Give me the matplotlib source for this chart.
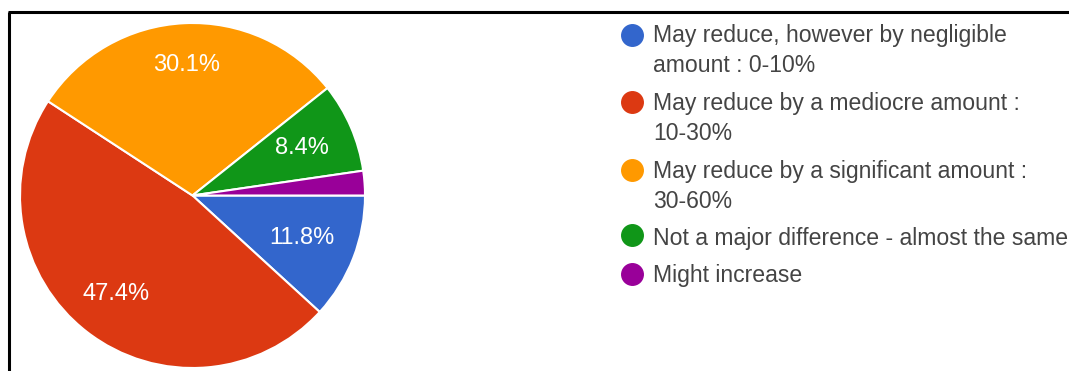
import numpy as np
import matplotlib
matplotlib.use("Agg")
import matplotlib.pyplot as plt

# ---- data ----
categories = [
    "May reduce, however by negligible\namount : 0-10%",
    "May reduce by a mediocre amount :\n10-30%",
    "May reduce by a significant amount :\n30-60%",
    "Not a major difference - almost the same",
    "Might increase",
]
values = [11.8, 47.4, 30.1, 8.4, 2.3]
colors = ["#3366cc", "#dc3912", "#ff9900", "#109618", "#990099"]
label_dist = [0.68, 0.72, 0.76, 0.69, 0.7]

W, H = 1069, 371
plt.rcParams['font.family'] = ['Liberation Sans', 'DejaVu Sans']
fig = plt.figure(figsize=(W / 100, H / 100), dpi=100)
fig.patch.set_facecolor("white")

# overlay axes in pixel coordinates for border and legend
ov = fig.add_axes([0, 0, 1, 1])
ov.set_xlim(0, W)
ov.set_ylim(H, 0)
ov.axis("off")
ov.plot([9, 9], [12, H], color="black", lw=2.2, solid_capstyle="butt")
ov.plot([8, W], [12, 12], color="black", lw=2.2, solid_capstyle="butt")

# pie axes
cx, cy, r = 192.5, 195.5, 172.5
ax = fig.add_axes([(cx - r) / W, (H - cy - r) / H, 2 * r / W, 2 * r / H])
wedges, _ = ax.pie(values, colors=colors, startangle=0, counterclock=False,
                   radius=1, wedgeprops=dict(edgecolor="white", linewidth=1.5))
ax.set_xlim(-1, 1)
ax.set_ylim(-1, 1)
ax.axis("off")
for w, v, d in zip(wedges, values, label_dist):
    if v < 5:
        continue
    ang = np.deg2rad((w.theta1 + w.theta2) / 2)
    ax.text(d * np.cos(ang), d * np.sin(ang), f"{v:.1f}%", color="white",
            fontsize=17, ha="center", va="center")

# legend
circle_y = [35, 102, 170, 235, 274]
base_y = [42, 110, 178, 245, 282]
for lab, c, yc, yb in zip(categories, colors, circle_y, base_y):
    ov.plot([631.5], [yc], marker="o", ms=15.5, color=c, mec=c)
    lines = lab.split("\n")
    for i, ln in enumerate(lines):
        ov.text(653, yb + 30 * i, ln, fontsize=16.6, color="#444444",
                ha="left", va="baseline")

fig.savefig("out.png", dpi=100, facecolor="white")
